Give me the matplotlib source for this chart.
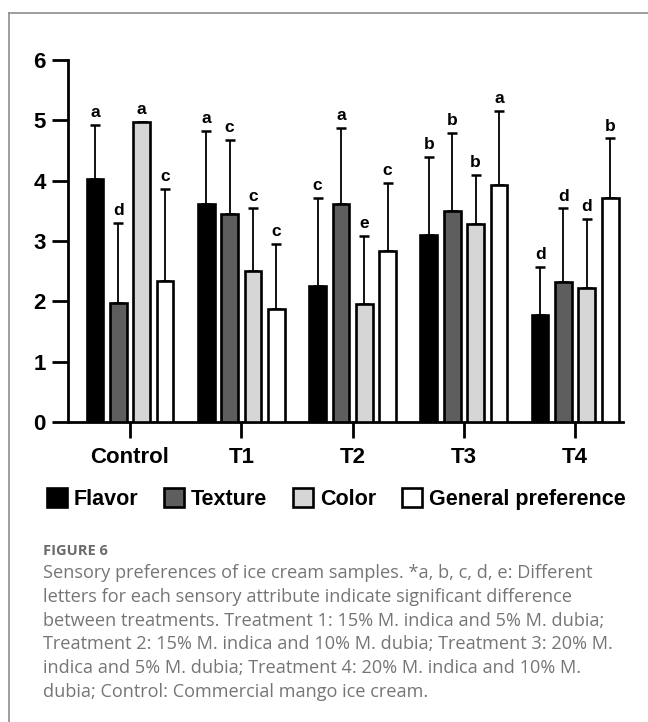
import matplotlib
matplotlib.use("Agg")
import matplotlib.pyplot as plt
from matplotlib.patches import Patch
from matplotlib.lines import Line2D
import numpy as np

# Sensory scores (mean and standard deviation) per sample
samples = ["Control", "T1", "T2", "T3", "T4"]
attributes = ["Flavor", "Texture", "Color", "General preference"]

flavor_mean = [4.02, 3.62, 2.25, 3.10, 1.77]
texture_mean = [1.98, 3.45, 3.62, 3.49, 2.32]
color_mean = [4.97, 2.51, 1.95, 3.29, 2.22]
general_mean = [2.34, 1.87, 2.84, 3.93, 3.72]

flavor_sd = [0.90, 1.21, 1.47, 1.29, 0.80]
texture_sd = [1.32, 1.23, 1.25, 1.30, 1.22]
color_sd = [0.00, 1.03, 1.13, 0.81, 1.14]
general_sd = [1.52, 1.08, 1.12, 1.22, 0.98]

# Significance letters
flavor_letters = ["a", "a", "c", "b", "d"]
texture_letters = ["d", "c", "a", "b", "d"]
color_letters = ["a", "c", "e", "b", "d"]
general_letters = ["c", "c", "c", "a", "b"]

means = [flavor_mean, texture_mean, color_mean, general_mean]
sds = [flavor_sd, texture_sd, color_sd, general_sd]
letters = [flavor_letters, texture_letters, color_letters, general_letters]
fills = ["#000000", "#5e5e5e", "#d6d6d6", "#ffffff"]

W, H = 648, 722
fig = plt.figure(figsize=(W / 100, H / 100), dpi=100)
fig.patch.set_facecolor("white")

chart_font = "Liberation Sans"

# Panel frame (top and left edges)
fig.add_artist(Line2D([8.5 / W, 1.0], [1 - 13 / H, 1 - 13 / H],
                      transform=fig.transFigure, color="#8e8e8e", lw=1.2))
fig.add_artist(Line2D([8.5 / W, 8.5 / W], [1 - 13 / H, 0.0],
                      transform=fig.transFigure, color="#8e8e8e", lw=1.2))

ax = fig.add_axes([68 / W, (H - 422) / H, (623 - 68) / W, (422 - 60) / H])

x = np.arange(len(samples))
pitch = 0.21
width = 0.15
for i in range(4):
    pos = x + (i - 1.5) * pitch
    m = np.array(means[i])
    s = np.array(sds[i])
    ax.bar(pos, m, width=width, color=fills[i], edgecolor="black",
           linewidth=1.9, zorder=3)
    ax.errorbar(pos, m, yerr=[np.zeros_like(s), s], fmt="none",
                ecolor="black", elinewidth=1.3, capsize=3.6, capthick=1.8,
                zorder=2)
    for xi, top, lab in zip(pos, m + s, letters[i]):
        ax.annotate(lab, (xi, top), xytext=(0, 3.5), textcoords="offset points",
                    ha="center", va="bottom", fontsize=12.5, fontweight="bold",
                    family=chart_font, zorder=4)

ax.set_xlim(-0.557, 4.43)
ax.set_ylim(0, 6)
ax.set_yticks(range(0, 7))
ax.set_xticks(x)
ax.set_xticklabels(samples)

for side in ("top", "right"):
    ax.spines[side].set_visible(False)
for side in ("left", "bottom"):
    ax.spines[side].set_linewidth(2.0)

ax.tick_params(axis="both", direction="out", length=11.5, width=2.0,
               labelsize=16)
ax.tick_params(axis="x", pad=6.5)
ax.tick_params(axis="y", pad=4.5)
for lab in ax.get_xticklabels() + ax.get_yticklabels():
    lab.set_fontweight("bold")
    lab.set_family(chart_font)

handles = [Patch(facecolor=f, edgecolor="black", linewidth=1.9) for f in fills]
fig.legend(handles, attributes, loc="center", ncol=4,
           bbox_to_anchor=(336 / W, (H - 499) / H), frameon=False,
           prop={"family": chart_font, "weight": "bold", "size": 15.5},
           handlelength=0.95, handleheight=1.0, handletextpad=0.3,
           columnspacing=1.2, borderaxespad=0)

# Caption
cap_font = "Open Sans"
fig.text(43 / W, 1 - 555 / H, "FIGURE 6", ha="left", va="baseline",
         fontsize=10.5, fontweight="bold", color="#6a6a6a", family=cap_font)
caption_lines = [
    "Sensory preferences of ice cream samples. *a, b, c, d, e: Different",
    "letters for each sensory attribute indicate significant difference",
    "between treatments. Treatment 1: 15% M. indica and 5% M. dubia;",
    "Treatment 2: 15% M. indica and 10% M. dubia; Treatment 3: 20% M.",
    "indica and 5% M. dubia; Treatment 4: 20% M. indica and 10% M.",
    "dubia; Control: Commercial mango ice cream.",
]
for k, line in enumerate(caption_lines):
    fig.text(43 / W, 1 - (578 + 23.8 * k) / H, line, ha="left", va="baseline",
             fontsize=13.1, fontweight="normal", color="#757575",
             family=cap_font)

fig.savefig("out.png", dpi=100, facecolor="white")
